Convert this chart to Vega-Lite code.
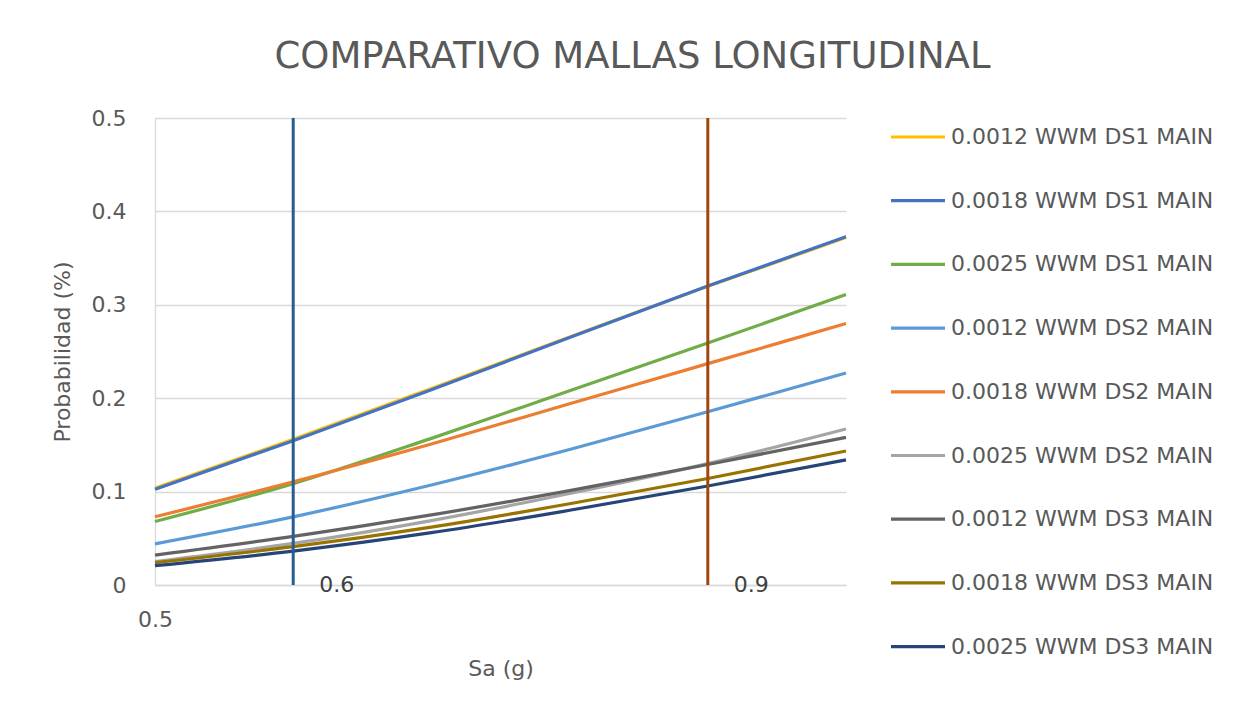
{
  "$schema": "https://vega.github.io/schema/vega-lite/v6.json",
  "width": 691,
  "height": 467,
  "autosize": {"type": "none"},
  "padding": {"left": 155, "top": 118, "right": 406, "bottom": 134},
  "background": "white",
  "title": {
    "text": "COMPARATIVO MALLAS LONGITUDINAL",
    "fontSize": 37,
    "font": "DejaVu Sans",
    "fontWeight": "normal",
    "color": "#595959",
    "anchor": "middle",
    "dx": 132,
    "offset": 31
  },
  "config": {
    "view": {"stroke": null},
    "font": "DejaVu Sans",
    "axis": {
      "labelFont": "DejaVu Sans",
      "titleFont": "DejaVu Sans",
      "labelColor": "#595959",
      "titleColor": "#595959",
      "labelFontSize": 22,
      "titleFontSize": 22,
      "titleFontWeight": "normal",
      "ticks": false,
      "tickSize": 0,
      "gridColor": "#D9D9D9",
      "gridWidth": 1.3,
      "domainColor": "#D9D9D9",
      "domainWidth": 1.3
    }
  },
  "datasets": {
    "curvas": [
      {"serie": "0.0012 WWM DS1 MAIN", "sa": 0.5, "p": 0.1038},
      {"serie": "0.0012 WWM DS1 MAIN", "sa": 0.6, "p": 0.156},
      {"serie": "0.0012 WWM DS1 MAIN", "sa": 0.7, "p": 0.2105},
      {"serie": "0.0012 WWM DS1 MAIN", "sa": 0.8, "p": 0.2655},
      {"serie": "0.0012 WWM DS1 MAIN", "sa": 0.9, "p": 0.3198},
      {"serie": "0.0012 WWM DS1 MAIN", "sa": 1.0, "p": 0.372},
      {"serie": "0.0018 WWM DS1 MAIN", "sa": 0.5, "p": 0.1025},
      {"serie": "0.0018 WWM DS1 MAIN", "sa": 0.6, "p": 0.1545},
      {"serie": "0.0018 WWM DS1 MAIN", "sa": 0.7, "p": 0.209},
      {"serie": "0.0018 WWM DS1 MAIN", "sa": 0.8, "p": 0.265},
      {"serie": "0.0018 WWM DS1 MAIN", "sa": 0.9, "p": 0.32},
      {"serie": "0.0018 WWM DS1 MAIN", "sa": 1.0, "p": 0.373},
      {"serie": "0.0025 WWM DS1 MAIN", "sa": 0.5, "p": 0.068},
      {"serie": "0.0025 WWM DS1 MAIN", "sa": 0.6, "p": 0.1085},
      {"serie": "0.0025 WWM DS1 MAIN", "sa": 0.7, "p": 0.157},
      {"serie": "0.0025 WWM DS1 MAIN", "sa": 0.8, "p": 0.208},
      {"serie": "0.0025 WWM DS1 MAIN", "sa": 0.9, "p": 0.259},
      {"serie": "0.0025 WWM DS1 MAIN", "sa": 1.0, "p": 0.311},
      {"serie": "0.0012 WWM DS2 MAIN", "sa": 0.5, "p": 0.044},
      {"serie": "0.0012 WWM DS2 MAIN", "sa": 0.6, "p": 0.073},
      {"serie": "0.0012 WWM DS2 MAIN", "sa": 0.7, "p": 0.107},
      {"serie": "0.0012 WWM DS2 MAIN", "sa": 0.8, "p": 0.145},
      {"serie": "0.0012 WWM DS2 MAIN", "sa": 0.9, "p": 0.1855},
      {"serie": "0.0012 WWM DS2 MAIN", "sa": 1.0, "p": 0.227},
      {"serie": "0.0018 WWM DS2 MAIN", "sa": 0.5, "p": 0.073},
      {"serie": "0.0018 WWM DS2 MAIN", "sa": 0.6, "p": 0.1105},
      {"serie": "0.0018 WWM DS2 MAIN", "sa": 0.7, "p": 0.151},
      {"serie": "0.0018 WWM DS2 MAIN", "sa": 0.8, "p": 0.194},
      {"serie": "0.0018 WWM DS2 MAIN", "sa": 0.9, "p": 0.237},
      {"serie": "0.0018 WWM DS2 MAIN", "sa": 1.0, "p": 0.28},
      {"serie": "0.0025 WWM DS2 MAIN", "sa": 0.5, "p": 0.025},
      {"serie": "0.0025 WWM DS2 MAIN", "sa": 0.6, "p": 0.0445},
      {"serie": "0.0025 WWM DS2 MAIN", "sa": 0.7, "p": 0.069},
      {"serie": "0.0025 WWM DS2 MAIN", "sa": 0.8, "p": 0.098},
      {"serie": "0.0025 WWM DS2 MAIN", "sa": 0.9, "p": 0.13},
      {"serie": "0.0025 WWM DS2 MAIN", "sa": 1.0, "p": 0.167},
      {"serie": "0.0012 WWM DS3 MAIN", "sa": 0.5, "p": 0.032},
      {"serie": "0.0012 WWM DS3 MAIN", "sa": 0.6, "p": 0.052},
      {"serie": "0.0012 WWM DS3 MAIN", "sa": 0.7, "p": 0.075},
      {"serie": "0.0012 WWM DS3 MAIN", "sa": 0.8, "p": 0.101},
      {"serie": "0.0012 WWM DS3 MAIN", "sa": 0.9, "p": 0.129},
      {"serie": "0.0012 WWM DS3 MAIN", "sa": 1.0, "p": 0.158},
      {"serie": "0.0018 WWM DS3 MAIN", "sa": 0.5, "p": 0.024},
      {"serie": "0.0018 WWM DS3 MAIN", "sa": 0.6, "p": 0.041},
      {"serie": "0.0018 WWM DS3 MAIN", "sa": 0.7, "p": 0.062},
      {"serie": "0.0018 WWM DS3 MAIN", "sa": 0.8, "p": 0.087},
      {"serie": "0.0018 WWM DS3 MAIN", "sa": 0.9, "p": 0.114},
      {"serie": "0.0018 WWM DS3 MAIN", "sa": 1.0, "p": 0.1435},
      {"serie": "0.0025 WWM DS3 MAIN", "sa": 0.5, "p": 0.0207},
      {"serie": "0.0025 WWM DS3 MAIN", "sa": 0.6, "p": 0.0363},
      {"serie": "0.0025 WWM DS3 MAIN", "sa": 0.7, "p": 0.056},
      {"serie": "0.0025 WWM DS3 MAIN", "sa": 0.8, "p": 0.08},
      {"serie": "0.0025 WWM DS3 MAIN", "sa": 0.9, "p": 0.106},
      {"serie": "0.0025 WWM DS3 MAIN", "sa": 1.0, "p": 0.134}
    ],
    "referencias": [
      {"sa": 0.6, "etiqueta": "0.6"},
      {"sa": 0.9, "etiqueta": "0.9"}
    ]
  },
  "layer": [
    {
      "data": {"name": "curvas"},
      "mark": {"type": "line", "strokeWidth": 3.2, "interpolate": "monotone"},
      "encoding": {
        "x": {
          "field": "sa",
          "type": "quantitative",
          "scale": {"domain": [0.5, 1.0], "nice": false, "zero": false},
          "axis": {
            "title": "Sa (g)",
            "values": [0.5],
            "format": "~g",
            "grid": false,
            "labelFlush": false,
            "labelPadding": 24,
            "titlePadding": 28
          }
        },
        "y": {
          "field": "p",
          "type": "quantitative",
          "scale": {"domain": [0, 0.5], "nice": false},
          "axis": {
            "title": "Probabilidad (%)",
            "values": [0, 0.1, 0.2, 0.3, 0.4, 0.5],
            "format": "~g",
            "grid": true,
            "labelPadding": 29,
            "titlePadding": 17
          }
        },
        "color": {
          "field": "serie",
          "type": "nominal",
          "scale": {
            "domain": [
              "0.0012 WWM DS1 MAIN",
              "0.0018 WWM DS1 MAIN",
              "0.0025 WWM DS1 MAIN",
              "0.0012 WWM DS2 MAIN",
              "0.0018 WWM DS2 MAIN",
              "0.0025 WWM DS2 MAIN",
              "0.0012 WWM DS3 MAIN",
              "0.0018 WWM DS3 MAIN",
              "0.0025 WWM DS3 MAIN"
            ],
            "range": ["#FFC000", "#4472C4", "#70AD47", "#5B9BD5", "#ED7D31", "#A5A5A5", "#636363", "#997300", "#264478"]
          },
          "legend": {
            "orient": "none",
            "legendX": 734,
            "legendY": -10,
            "title": null,
            "padding": 0,
            "symbolType": "stroke",
            "symbolSize": 2916,
            "symbolStrokeWidth": 3.2,
            "labelFont": "DejaVu Sans",
            "labelFontSize": 22,
            "labelColor": "#595959",
            "labelOffset": 4,
            "labelLimit": 400,
            "rowPadding": 23.7
          }
        }
      }
    },
    {
      "data": {"name": "referencias"},
      "mark": {"type": "rule", "strokeWidth": 3},
      "encoding": {
        "x": {"field": "sa", "type": "quantitative"},
        "stroke": {
          "field": "etiqueta",
          "type": "nominal",
          "scale": {"domain": ["0.6", "0.9"], "range": ["#255E91", "#9E480E"]},
          "legend": null
        }
      }
    },
    {
      "data": {"name": "referencias"},
      "mark": {"type": "text", "align": "left", "baseline": "middle", "dx": 26, "fontSize": 22, "font": "DejaVu Sans", "color": "#404040"},
      "encoding": {
        "x": {"field": "sa", "type": "quantitative"},
        "y": {"datum": 0, "type": "quantitative"},
        "text": {"field": "etiqueta"}
      }
    }
  ]
}
